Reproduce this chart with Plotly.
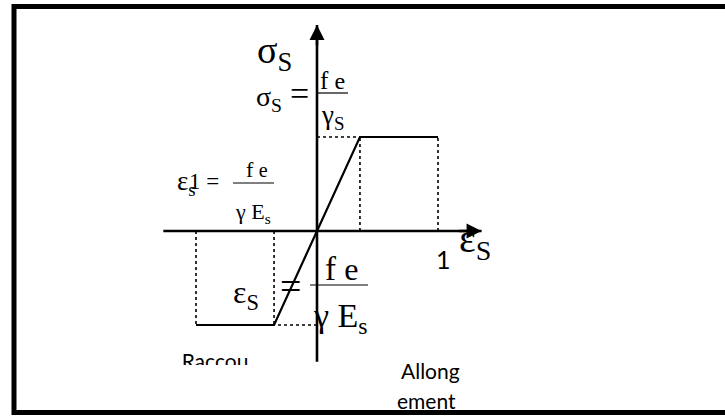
import plotly.graph_objects as go

# stress-strain diagram of reinforcing steel (drawn, not to scale)
curve_strain = [-10.0, -3.55, 3.55, 10.0]      # per mille
curve_stress = [-435.0, -435.0, 435.0, 435.0]  # MPa (fe / gamma_s)

yield_strain = [-3.55, 3.55]
limit_strain = [-10.0, 10.0]
yield_stress = [-435.0, 435.0]

axis_strain = [-12.7, 13.6]
axis_stress = [-605.0, 953.0]

W, H = 725, 416
ORIGIN_PX = (317, 231)
SX = 12.1          # px per unit of strain
SY = 94 / 435      # px per MPa
PLOT_BOTTOM_PX = 365

SERIF = "Liberation Serif"
SANS = "Lato"


def P(x, y):
    return x / W, 1 - y / H


def to_data(px, py):
    return (px - ORIGIN_PX[0]) / SX, (ORIGIN_PX[1] - py) / SY


fig = go.Figure()

# dotted guides
gx, gy = [], []
for e, s in zip(yield_strain, yield_stress):
    gx += [e, e, None, 0, e, None]
    gy += [0, s, None, s, s, None]
for e, s in zip(limit_strain, yield_stress):
    gx += [e, e, None]
    gy += [0, s, None]
fig.add_trace(go.Scatter(x=gx, y=gy, mode="lines",
                         line=dict(color="black", width=1.6, dash="dot"),
                         hoverinfo="skip"))

# axes
fig.add_trace(go.Scatter(x=axis_strain, y=[0, 0], mode="lines",
                         line=dict(color="black", width=2.6), hoverinfo="skip"))
fig.add_trace(go.Scatter(x=[0, 0], y=axis_stress, mode="lines",
                         line=dict(color="black", width=2.6), hoverinfo="skip"))

# law
fig.add_trace(go.Scatter(x=curve_strain, y=curve_stress, mode="lines",
                         line=dict(color="black", width=2.2), hoverinfo="skip"))

# clipped label
rx, ry = to_data(215, 364)
fig.add_trace(go.Scatter(x=[rx], y=[ry], mode="text", text=["Raccou"],
                         textposition="middle center", cliponaxis=True,
                         textfont=dict(family=SANS, size=21, color="black"),
                         hoverinfo="skip"))

ann = []
# arrow heads
ann.append(dict(x=axis_strain[1], y=0, ax=axis_strain[1] - 2, ay=0,
                xref="x", yref="y", axref="x", ayref="y", text="",
                showarrow=True, arrowhead=2, arrowsize=1.2, arrowwidth=2.5,
                arrowcolor="black"))
ann.append(dict(x=0, y=axis_stress[1], ax=0, ay=axis_stress[1] - 100,
                xref="x", yref="y", axref="x", ayref="y", text="",
                showarrow=True, arrowhead=2, arrowsize=1.2, arrowwidth=2.5,
                arrowcolor="black"))


def label(txt, px, py, size, family=SERIF):
    x, y = P(px, py)
    ann.append(dict(x=x, y=y, xref="paper", yref="paper", text=txt,
                    showarrow=False, xanchor="center", yanchor="middle",
                    font=dict(family=family, size=size, color="black")))


def fe(size):
    return 'f <span style="font-size:%dpx">e</span>' % size


label("σ<sub>S</sub>", 274, 53, 38)
label("σ<sub>S</sub>", 269, 99, 28)
label("=", 299, 94, 34)
label(fe(24), 332, 80, 25)
label("γ<sub>S</sub>", 332, 117, 27)

label("ε<sub>s</sub>", 186, 183, 27)
label("1 =", 204, 181, 23)
label(fe(20), 257, 169, 22)
label("γ E<sub>s</sub>", 253, 213, 22)

label("ε<sub>S</sub>", 246, 294, 32)
label("=", 290, 286, 38)
label(fe(32), 341, 269, 33)
label("γ E<sub>s</sub>", 340, 318, 34)

label("1", 444, 259, 25, SANS)
label("ε<sub>S</sub>", 475, 241, 40)
label("Allong", 430, 370, 21, SANS)
label("ement", 426, 400, 21, SANS)

shapes = []
for x0, x1, y in [(317, 348, 93), (233, 274, 183), (310, 368, 285)]:
    a, b = P(x0, y)
    c, _ = P(x1, y)
    shapes.append(dict(type="line", xref="paper", yref="paper",
                       x0=a, x1=c, y0=b, y1=b,
                       line=dict(color="black", width=1.2)))

# frame (left, top, bottom; right edge lies outside the picture)
for (x0, y0), (x1, y1) in [((14, 4), (14, 415)), ((12, 6.5), (W, 6.5)),
                           ((12, 412.5), (W, 412.5))]:
    a, b = P(x0, y0)
    c, d = P(x1, y1)
    shapes.append(dict(type="line", xref="paper", yref="paper",
                       x0=a, x1=c, y0=b, y1=d,
                       line=dict(color="black", width=5)))

xr = [(0 - ORIGIN_PX[0]) / SX, (W - ORIGIN_PX[0]) / SX]
yr = [(ORIGIN_PX[1] - PLOT_BOTTOM_PX) / SY, ORIGIN_PX[1] / SY]

fig.update_layout(
    width=W, height=H,
    margin=dict(l=0, r=0, t=0, b=0),
    paper_bgcolor="white", plot_bgcolor="white",
    showlegend=False,
    xaxis=dict(range=xr, domain=[0, 1], visible=False, fixedrange=True),
    yaxis=dict(range=yr, domain=[1 - PLOT_BOTTOM_PX / H, 1], visible=False,
               fixedrange=True),
    annotations=ann,
    shapes=shapes,
)

fig.write_html("out.html", config={"displayModeBar": False},
               post_script="document.body.style.margin='0px';"
                           "document.body.style.overflow='hidden';")
